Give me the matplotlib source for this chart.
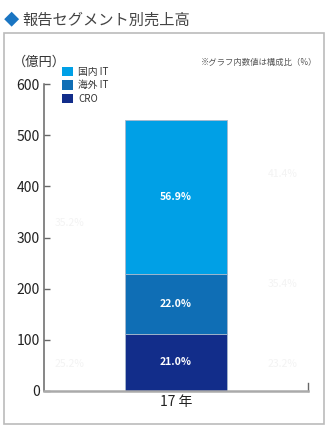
import matplotlib
matplotlib.use("Agg")
from matplotlib import pyplot as plt
from matplotlib.patches import Rectangle, Patch

plt.rcParams['font.family'] = ['Noto Sans CJK JP', 'DejaVu Sans']

# 売上高（億円）と構成比
years = ["17 年"]
segments = ["CRO", "海外 IT", "国内 IT"]
sales = [111.5, 116.8, 302.2]
shares = ["21.0%", "22.0%", "56.9%"]
colors = ["#122d8a", "#0f6eb5", "#00a0e6"]

# 薄く残っている他年度の構成比
ghost_x = [0.098, 0.098, 0.905, 0.905, 0.905]
ghost_y = [328, 53, 424, 209, 53]
ghost_text = ["35.2%", "25.2%", "41.4%", "35.4%", "23.2%"]

fig = plt.figure(figsize=(3.30, 4.34), dpi=100)

# 外枠
fig.patches.append(Rectangle((4 / 330, 1 - 424 / 434), 320 / 330, 391 / 434,
                             transform=fig.transFigure, fill=False,
                             edgecolor="#bbbbbb", linewidth=1.2))

fig.text(4 / 330, 1 - 20 / 434, "◆", color="#1a75c2", fontsize=11, va="center")
fig.text(22 / 330, 1 - 20 / 434, "報告セグメント別売上高", color="#444444",
         fontsize=11, va="center")

ax = fig.add_axes([44 / 330, 1 - 391 / 434, 264 / 330, 307 / 434])

bottom = 0
for seg, val, lab, col in zip(segments, sales, shares, colors):
    ax.bar(0, val, width=0.386, bottom=bottom, color=col,
           edgecolor="#a8b8cc", linewidth=0.6, label=seg)
    ax.text(0, bottom + val / 2, lab, color="white", fontsize=7.5,
            fontweight="bold", ha="center", va="center")
    bottom += val

for gx, gy, gt in zip(ghost_x, ghost_y, ghost_text):
    ax.text(gx, gy, gt, color="#f3f3f3", fontsize=7.5, ha="center",
            va="center", transform=ax.get_yaxis_transform())

ax.set_xlim(-0.5, 0.5)
ax.set_ylim(0, 600)
ax.set_yticks([0, 100, 200, 300, 400, 500, 600])
ax.set_xticks([0])
ax.set_xticklabels(years)

ax.spines["top"].set_visible(False)
ax.spines["right"].set_visible(False)
ax.spines["left"].set_color("#666666")
ax.spines["left"].set_linewidth(1.1)
ax.spines["bottom"].set_color("#aaaaaa")
ax.spines["bottom"].set_linewidth(1.8)
ax.tick_params(axis="y", direction="in", length=4.5, width=1, color="#666666",
               labelsize=10, labelcolor="#222222", pad=3)
ax.tick_params(axis="x", length=0, labelsize=10, labelcolor="#222222", pad=3)
ax.plot([1, 1], [0, 0.027], transform=ax.transAxes, color="#666666",
        linewidth=1, clip_on=False)

handles, labels = ax.get_legend_handles_labels()
handles = [Patch(facecolor=c) for c in colors[::-1]]
ax.legend(handles, segments[::-1], loc="upper left",
          bbox_to_anchor=(57 / 330, 1 - 62 / 434), bbox_transform=fig.transFigure,
          frameon=False, fontsize=7, handlelength=1.1, handleheight=1.1,
          handletextpad=0.6, labelspacing=0.35, borderpad=0, labelcolor="#333333")

fig.text(13 / 330, 1 - 62 / 434, "（億円）", fontsize=9.5, color="#333333",
         va="center")
fig.text(317 / 330, 1 - 62 / 434, "※グラフ内数値は構成比（%）", fontsize=6,
         color="#555555", ha="right", va="center")

fig.savefig("out.png", dpi=100)
